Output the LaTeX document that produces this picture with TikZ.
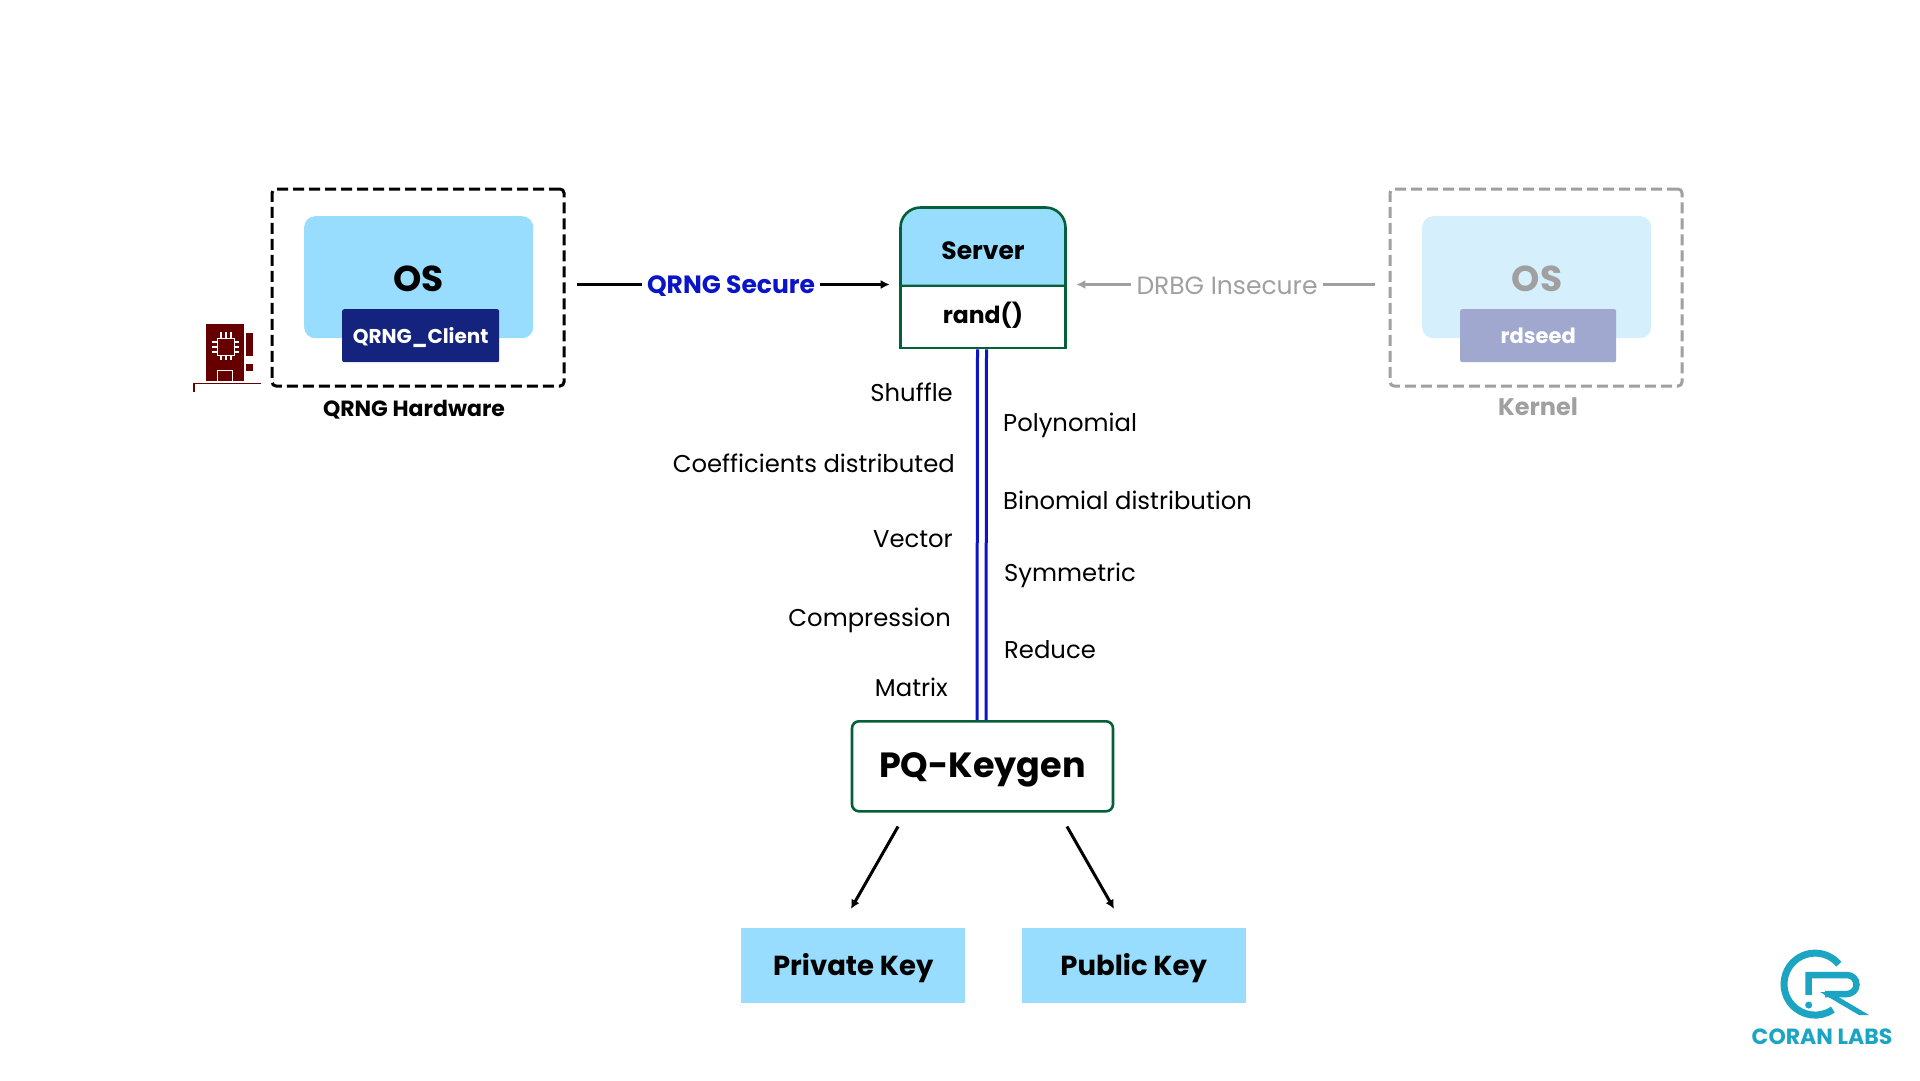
\documentclass[tikz,border=0pt]{standalone}
\usepackage{fontspec}
\setmainfont{Poppins}
\usetikzlibrary{arrows.meta}
\usetikzlibrary{shapes}
\usetikzlibrary{scopes}
\definecolor{skyfill}{HTML}{98DDFD}
\definecolor{skypale}{HTML}{D6EFFD}
\definecolor{navyfill}{HTML}{14247E}
\definecolor{navypale}{HTML}{A1A8CF}
\definecolor{boxgreen}{HTML}{05603A}
\definecolor{wireblue}{HTML}{0A14C8}
\definecolor{fadegray}{HTML}{A0A0A0}
\definecolor{chipred}{HTML}{660000}
\definecolor{logoteal}{HTML}{1BA5C2}
\tikzset{
	plate/.style={rectangle, anchor=north west, inner sep=0pt},
	dashbox/.style={plate, draw, line width=3pt, dash pattern=on 11pt off 5pt, rounded corners=4pt},
	osbox/.style={plate, fill=skyfill, rounded corners=11pt},
	tagbox/.style={plate, rounded corners=2pt, text=white, font=\fontsize{20}{24}\selectfont\bfseries, text height=15pt, text depth=0pt, align=center},
	keybox/.style={plate, fill=skyfill, font=\fontsize{27.5}{30}\selectfont\bfseries, text height=19pt, text depth=0pt, align=center},
	oplabel/.style={inner sep=0pt, font=\fontsize{24.3}{28}\selectfont},
	toleft/.style={oplabel, anchor=east},
	toright/.style={oplabel, anchor=west},
	feed/.style={line width=2.6pt, -{Latex[length=9pt,width=9pt]}},
	tail/.style={line width=2.6pt},
	wire/.style={wireblue, line width=3pt}
}
\begin{document}
\begin{tikzpicture}[x=1pt, y=-1pt]
		\useasboundingbox (0,0) rectangle (1920,1080);
		\fill[white] (0,0) rectangle (1920,1080);
		\node[dashbox, minimum width=292pt, minimum height=197pt] (hardware) at (270.5,187.5) {};
		\node[osbox, minimum width=229pt, minimum height=122pt] (os) at (304,216) {};
		\node[font=\fontsize{36}{40}\selectfont\bfseries] at (418.5,279) {OS};
		\node[tagbox, fill=navyfill, minimum width=157pt, minimum height=53pt] (client) at (342,309) {QRNG\_Client};
		\node[font=\fontsize{22}{26}\selectfont\bfseries] (hardwarename) at (414,409.5) {QRNG Hardware};
		\begin{scope}[chipred]
			\fill (206,324) rectangle (244,381);
			\fill (246,333) rectangle (253,356);
			\fill (246,364) rectangle (253,371);
			\draw[line width=1.4pt] (194,392) -- (194,383.5) -- (261,383.5);
		\end{scope}
		\begin{scope}[white, line width=1.4pt]
			\draw (217.5,338.5) rectangle (234.5,355.5);
			\draw (217.5,381) -- (217.5,370.5) -- (232.5,370.5) -- (232.5,381);
			\foreach \n in {-5,0,5} {
				\draw (212,347+\n) -- (217.5,347+\n);
				\draw (234.5,347+\n) -- (239,347+\n);
				\draw (226+\n,332) -- (226+\n,338.5);
				\draw (226+\n,355.5) -- (226+\n,360);
			}
		\end{scope}
		\begin{scope}[fadegray]
			\node[dashbox, draw=fadegray, minimum width=292pt, minimum height=197pt] (kernel) at (1388.5,187.5) {};
			\node[osbox, fill=skypale, minimum width=229pt, minimum height=122pt] (kernelos) at (1422,216) {};
			\node[font=\fontsize{36}{40}\selectfont\bfseries] at (1537,279) {OS};
			\node[tagbox, fill=navypale, font=\fontsize{21}{24}\selectfont\bfseries, minimum width=156pt, minimum height=53pt] (rdseed) at (1460,309) {rdseed};
			\node[font=\fontsize{24}{26}\selectfont\bfseries] (kernelname) at (1538,407) {Kernel};
		\end{scope}
		\filldraw[fill=skyfill, draw=boxgreen, line width=2.6pt] (900.5,286) [rounded corners=20pt] -- (900.5,207.5) -- (1065.5,207.5) [sharp corners] -- (1065.5,286) -- cycle;
		\node[font=\fontsize{25}{28}\selectfont\bfseries] (server) at (983,251) {Server};
		\node[plate, draw=boxgreen, fill=white, line width=2.6pt, minimum width=165pt, minimum height=62pt, font=\fontsize{23.5}{28}\selectfont\bfseries, text height=13pt, text depth=0pt] (rand) at (899.2,284.7) {rand()};
		\node[plate, draw=boxgreen, line width=2.6pt, rounded corners=7pt, minimum width=261pt, minimum height=90pt, font=\fontsize{35}{42}\selectfont\bfseries, text height=24.5pt, text depth=2.5pt] (keygen) at (850.7,720) {PQ-Keygen};
		\node[keybox, minimum width=224pt, minimum height=75pt] (private) at (741,928) {Private Key};
		\node[keybox, minimum width=224pt, minimum height=75pt] (public) at (1021.5,928) {Public Key};
		\node[inner sep=0pt, wireblue, font=\fontsize{25}{30}\selectfont\bfseries] (secure) at (731,286) {QRNG Secure};
		\node[inner sep=0pt, fadegray, font=\fontsize{25}{30}\selectfont] (insecure) at (1227,286) {DRBG Insecure};
		\coordinate (hardwareport) at (hardware.east |- 0,284.5);
		\coordinate (securein) at (secure.west |- hardwareport);
		\coordinate (secureout) at (secure.east |- hardwareport);
		\coordinate (serverport) at (rand.west |- hardwareport);
		\coordinate (serverportr) at (rand.east |- hardwareport);
		\coordinate (kernelport) at (kernel.west |- hardwareport);
		\coordinate (insecurein) at (insecure.east |- hardwareport);
		\coordinate (insecureout) at (insecure.west |- hardwareport);
		\draw[tail, shorten <=11pt, shorten >=5pt] (hardwareport) -- (securein);
		\draw[feed, shorten <=5pt, shorten >=9.5pt] (secureout) -- (serverport);
		\draw[tail, fadegray, shorten <=14pt, shorten >=5pt] (kernelport) -- (insecurein);
		\draw[feed, fadegray, shorten <=5pt, shorten >=9.5pt] (insecureout) -- (serverportr);
		\draw[wire] ([xshift=-5.5pt]rand.south) -- ([xshift=-5.5pt]keygen.north);
		\draw[wire] ([xshift=3.5pt]rand.south) -- ([xshift=3.5pt]keygen.north);
		\draw[feed, line width=3pt, shorten <=16pt, shorten >=22pt] (keygen.south -| 906,0) -- (private.north -| 840,0);
		\draw[feed, line width=3pt, shorten <=16pt, shorten >=22pt] (keygen.south -| 1059,0) -- (public.north -| 1125,0);
		\node[toleft] (shuffle) at (953,392) {Shuffle};
		\node[toleft] (coeff) at (955,463) {Coefficients distributed};
		\node[toleft] (vector) at (953,539) {Vector};
		\node[toleft] (compression) at (951,620.5) {Compression};
		\node[toleft] (matrix) at (948,687) {Matrix};
		\node[toright] (polynomial) at (1003,425.5) {Polynomial};
		\node[toright] (binomial) at (1003,500.5) {Binomial distribution};
		\node[toright] (symmetric) at (1004,575.5) {Symmetric};
		\node[toright] (reduce) at (1004,649.5) {Reduce};
		\begin{scope}[logoteal]
			\draw[line width=7pt] (1838.8,964.2) arc[start angle=-40, end angle=-305, radius=31];
			\draw[line width=6.5pt] (1808.5,995) -- (1808.5,975) -- (1847,975) arc[start angle=-90, end angle=90, radius=9.5] -- (1825,994);
			\fill (1820,992) -- (1830,992) -- (1869,1015) -- (1859,1015) -- cycle;
			\fill (1808.7,1005) circle (3.5);
			\node[font=\fontsize{22}{24}\selectfont\bfseries] (logo) at (1822,1037) {CORAN LABS};
		\end{scope}
	\end{tikzpicture}
\end{document}
